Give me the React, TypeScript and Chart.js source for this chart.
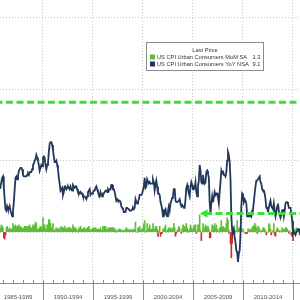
import React, { useEffect, useRef } from 'react';
import { Chart, registerables } from 'chart.js';

Chart.register(...registerables);

// Monthly series, first value = Aug 1985
const startYear = 1985;
const startMonth = 8;

// US CPI Urban Consumers YoY NSA (%)
const cpiYoY = [
  3.3, 3.1, 3.2, 3.5, 3.8,
  3.9, 3.1, 2.3, 1.6, 1.5, 1.8, 1.6, 1.6, 1.8, 1.5, 1.3, 1.1,
  1.5, 2.1, 3.0, 3.8, 3.9, 3.7, 3.9, 4.3, 4.4, 4.5, 4.5, 4.4,
  4.0, 3.9, 3.9, 3.9, 3.9, 4.0, 4.1, 4.0, 4.2, 4.2, 4.2, 4.4,
  4.7, 4.8, 5.0, 5.1, 5.4, 5.2, 5.0, 4.7, 4.3, 4.5, 4.7, 4.6,
  5.2, 5.3, 5.2, 4.7, 4.4, 4.7, 4.8, 5.6, 6.2, 6.3, 6.3, 6.1,
  5.7, 5.3, 4.9, 4.9, 5.0, 4.7, 4.4, 3.8, 3.4, 2.9, 3.0, 3.1,
  2.6, 2.8, 3.2, 3.2, 3.0, 3.1, 3.2, 3.1, 3.0, 3.2, 3.0, 2.9,
  3.3, 3.2, 3.1, 3.2, 3.2, 3.0, 2.8, 2.8, 2.7, 2.8, 2.7, 2.7,
  2.5, 2.5, 2.5, 2.4, 2.3, 2.5, 2.8, 2.9, 3.0, 2.6, 2.7, 2.7,
  2.8, 2.9, 2.9, 3.1, 3.2, 3.0, 2.8, 2.6, 2.5, 2.8, 2.6, 2.5,
  2.7, 2.7, 2.8, 2.9, 2.9, 2.8, 3.0, 2.9, 3.0, 3.0, 3.3, 3.3,
  3.0, 3.0, 2.8, 2.5, 2.2, 2.3, 2.2, 2.2, 2.2, 2.1, 1.8, 1.7,
  1.6, 1.4, 1.4, 1.4, 1.7, 1.7, 1.7, 1.6, 1.5, 1.5, 1.5, 1.6,
  1.7, 1.6, 1.7, 2.3, 2.1, 2.0, 2.1, 2.3, 2.6, 2.6, 2.6, 2.7,
  2.7, 3.2, 3.8, 3.1, 3.2, 3.7, 3.7, 3.4, 3.5, 3.4, 3.4, 3.4,
  3.7, 3.5, 2.9, 3.3, 3.6, 3.2, 2.7, 2.7, 2.6, 2.1, 1.9, 1.6,
  1.1, 1.1, 1.5, 1.6, 1.2, 1.1, 1.5, 1.8, 1.5, 2.0, 2.2, 2.4,
  2.6, 3.0, 3.0, 2.2, 2.1, 2.1, 2.1, 2.2, 2.3, 2.0, 1.8, 1.9,
  1.9, 1.7, 1.7, 2.3, 3.1, 3.3, 3.0, 2.7, 2.5, 3.2, 3.5, 3.3,
  3.0, 3.0, 3.1, 3.5, 2.8, 2.5, 3.2, 3.6, 4.7, 4.3, 3.5, 3.4,
  4.0, 3.6, 3.4, 3.5, 4.2, 4.3, 4.1, 3.8, 2.1, 1.3, 2.0, 2.5,
  2.1, 2.4, 2.8, 2.6, 2.7, 2.7, 2.4, 2.0, 2.8, 3.5, 4.3, 4.1,
  4.3, 4.0, 4.0, 3.9, 4.2, 5.0, 5.6, 5.4, 4.9, 3.7, 1.1, 0.1,
  0.0, 0.2, -0.4, -0.7, -1.3, -1.4, -2.1, -1.5, -1.3, -0.2, 1.8, 2.7,
  2.6, 2.1, 2.3, 2.2, 2.0, 1.1, 1.2, 1.1, 1.1, 1.2, 1.1, 1.5,
  1.6, 2.1, 2.7, 3.2, 3.6, 3.6, 3.6, 3.8, 3.9, 3.5, 3.4, 3.0,
  2.9, 2.9, 2.7, 2.3, 1.7, 1.7, 1.4, 1.7, 2.0, 2.2, 1.8, 1.7,
  1.6, 2.0, 1.5, 1.1, 1.4, 1.8, 2.0, 1.5, 1.2, 1.0, 1.2, 1.5,
  1.6, 1.1, 1.5, 2.0, 2.1, 2.1, 2.0, 1.7, 1.7, 1.7, 1.3, 0.8,
  -0.1, 0.0, -0.1, -0.2, 0.0, 0.1, 0.2, 0.2, 0.0, 0.2, 0.5, 0.7,
];

// US CPI Urban Consumers MoM SA (%)
const cpiMoM = [
  0.2, 0.2, 0.3, 0.5, 0.4,
  0.3, -0.4, -0.5, -0.2, 0.3, 0.4, 0.1, 0.2, 0.3, 0.1, 0.2, 0.2,
  0.6, 0.4, 0.4, 0.5, 0.3, 0.4, 0.3, 0.5, 0.3, 0.4, 0.3, 0.2,
  0.3, 0.2, 0.4, 0.4, 0.3, 0.4, 0.4, 0.4, 0.5, 0.3, 0.3, 0.3,
  0.5, 0.4, 0.5, 0.7, 0.6, 0.2, 0.2, 0.2, 0.3, 0.4, 0.3, 0.3,
  1.0, 0.5, 0.5, 0.2, 0.2, 0.5, 0.4, 0.9, 0.8, 0.6, 0.3, 0.3,
  0.6, 0.1, 0.1, 0.2, 0.3, 0.2, 0.2, 0.2, 0.3, 0.1, 0.4, 0.3,
  0.1, 0.3, 0.4, 0.2, 0.2, 0.3, 0.2, 0.3, 0.3, 0.3, 0.2, 0.2,
  0.5, 0.3, 0.3, 0.3, 0.2, 0.1, 0.0, 0.3, 0.2, 0.4, 0.2, 0.2,
  0.1, 0.3, 0.3, 0.1, 0.2, 0.3, 0.3, 0.4, 0.2, 0.1, 0.2, 0.2,
  0.3, 0.3, 0.2, 0.3, 0.2, 0.2, 0.1, 0.2, 0.2, 0.3, 0.1, 0.1,
  0.4, 0.3, 0.4, 0.4, 0.2, 0.1, 0.3, 0.2, 0.3, 0.3, 0.3, 0.3,
  0.3, 0.3, 0.1, 0.2, 0.0, 0.1, 0.1, 0.2, 0.2, 0.2, 0.1, 0.1,
  0.1, 0.1, 0.1, 0.2, 0.3, 0.1, 0.2, 0.1, 0.1, 0.2, 0.1, 0.1,
  0.2, 0.1, 0.2, 0.7, 0.0, 0.0, 0.3, 0.2, 0.4, 0.2, 0.1, 0.2,
  0.3, 0.6, 0.8, 0.0, 0.1, 0.6, 0.3, 0.1, 0.5, 0.2, 0.2, 0.2,
  0.6, 0.2, 0.2, 0.4, 0.4, 0.2, -0.3, 0.1, 0.4, -0.3, -0.1, -0.1,
  0.2, 0.2, 0.3, 0.5, 0.0, 0.1, 0.2, 0.3, 0.2, 0.3, 0.2, 0.1,
  0.3, 0.6, 0.3, -0.3, -0.1, 0.1, 0.2, 0.4, 0.3, 0.0, -0.1, 0.2,
  0.5, 0.4, 0.4, 0.2, 0.6, 0.3, 0.0, 0.1, 0.2, 0.5, 0.3, 0.1,
  0.2, 0.4, 0.5, 0.5, -0.1, 0.1, 0.5, 0.5, 1.2, 0.1, -0.6, 0.0,
  0.6, 0.1, 0.3, 0.5, 0.4, 0.2, 0.4, 0.2, -0.4, -0.4, 0.1, 0.5,
  0.2, 0.4, 0.6, 0.3, 0.5, 0.2, 0.1, 0.0, 0.3, 0.3, 0.8, 0.3,
  0.4, 0.3, 0.3, 0.2, 0.6, 1.0, 0.8, -0.1, 0.1, -0.8, -1.8, -0.8,
  0.4, 0.3, -0.1, 0.1, 0.1, 0.8, 0.1, 0.3, 0.2, 0.3, 0.3, 0.1,
  0.2, 0.0, 0.0, -0.1, -0.1, -0.1, 0.2, 0.2, 0.1, 0.2, 0.1, 0.3,
  0.4, 0.4, 0.6, 0.5, 0.3, -0.1, 0.4, 0.3, 0.2, 0.0, 0.1, 0.1,
  0.3, 0.3, 0.2, 0.1, -0.2, 0.0, 0.0, 0.6, 0.5, 0.2, -0.2, 0.0,
  0.1, 0.6, -0.2, -0.3, 0.1, 0.3, 0.2, 0.1, 0.1, 0.0, 0.1, 0.3,
  0.2, 0.1, 0.2, 0.3, 0.3, 0.2, 0.1, -0.1, 0.1, 0.0, -0.2, -0.3,
  -0.6, 0.2, 0.2, 0.1, 0.3, 0.2, 0.1, 0.0, -0.2, 0.1, 0.0, -0.1,
];

const periodStarts = [1985, 1990, 1995, 2000, 2005, 2010];
const periodLabels = ['1985-1989', '1990-1994', '1995-1999', '2000-2004', '2005-2009', '2010-2014'];
const yGridValues = [0, 5, 10, 15];

const legendTitle = 'Last Price';
const seriesNames = ['US CPI Urban Consumers MoM SA', 'US CPI Urban Consumers YoY NSA'];
const lastPrices = [1.3, 9.1];
const lastPriceText = ['1.3', '9.1'];
const arrowStartTime = 2006.2;

const X_MIN = 1985.7;
const X_MAX = 2015.7;

const GREEN = '#5cbf35';
const RED = '#d42a2a';
const NAVY = '#21385a';
const BRIGHT = '#3ddc3a';

const timeOf = (i: number) => startYear + (startMonth - 1 + i) / 12;

const legendPlugin = {
  id: 'lastPriceLegend',
  afterDraw(chart: any) {
    const ctx = chart.ctx;
    ctx.save();
    ctx.fillStyle = '#ffffff';
    ctx.fillRect(146.5, 42.5, 117, 28);
    ctx.strokeStyle = '#8c8c8c';
    ctx.lineWidth = 1;
    ctx.strokeRect(146.5, 42.5, 117, 28);
    ctx.font = '5.7px "Liberation Sans", Arial, sans-serif';
    ctx.textBaseline = 'middle';
    ctx.fillStyle = '#333';
    ctx.textAlign = 'center';
    ctx.fillText(legendTitle, 205, 50);
    const colors = [GREEN, NAVY];
    seriesNames.forEach((name, i) => {
      const y = 57 + i * 7;
      ctx.fillStyle = colors[i];
      ctx.fillRect(150, y - 2.5, 5, 5);
      ctx.fillStyle = '#333';
      ctx.textAlign = 'left';
      ctx.fillText(name, 157, y);
      ctx.textAlign = 'right';
      ctx.fillText(lastPriceText[i], 260.5, y);
    });
    ctx.restore();
  },
};

const axisMarksPlugin = {
  id: 'axisMarks',
  afterDraw(chart: any) {
    const xs = chart.scales.x;
    const { ctx, chartArea } = chart;
    ctx.save();
    ctx.strokeStyle = '#8c8c8c';
    ctx.lineWidth = 1;
    ctx.beginPath();
    xs.ticks.forEach((t: any) => {
      if (Number.isInteger(t.value)) {
        const px = Math.round(xs.getPixelForValue(t.value)) + 0.5;
        ctx.moveTo(px, chartArea.bottom - 3);
        ctx.lineTo(px, chartArea.bottom);
        if (t.value % 5 === 0) {
          ctx.moveTo(px, chartArea.bottom);
          ctx.lineTo(px, chart.height);
        }
      }
    });
    ctx.stroke();
    ctx.restore();
  },
};

export default function App() {
  const ref = useRef<HTMLCanvasElement | null>(null);

  useEffect(() => {
    document.body.style.margin = '0';
    const canvas = ref.current;
    if (!canvas) return;

    const momData = cpiMoM.map((v, i) => ({ x: timeOf(i), y: v }));
    const yoyData = cpiYoY.map((v, i) => ({ x: timeOf(i), y: v }));

    const xTicks: { value: number }[] = [];
    for (let yr = Math.ceil(X_MIN); yr <= Math.floor(X_MAX); yr++) xTicks.push({ value: yr });
    periodStarts.forEach((s) => xTicks.push({ value: s + 2.5 }));
    xTicks.sort((a, b) => a.value - b.value);

    const chart = new Chart(canvas, {
      type: 'bar',
      data: {
        datasets: [
          {
            type: 'line',
            label: 'Last YoY',
            data: [{ x: 1980, y: lastPrices[1] }, { x: 2025, y: lastPrices[1] }],
            borderColor: BRIGHT,
            borderWidth: 3,
            borderDash: [7, 3.5],
            pointRadius: 0,
            order: 0,
          },
          {
            type: 'line',
            label: 'Last MoM',
            data: [{ x: arrowStartTime, y: lastPrices[0] }, { x: 2025, y: lastPrices[0] }],
            borderColor: BRIGHT,
            backgroundColor: BRIGHT,
            borderWidth: 3,
            borderDash: [7, 3.5],
            pointStyle: 'triangle',
            pointRotation: 270,
            pointRadius: (c: any) => (c.dataIndex === 0 ? 5 : 0),
            pointBorderWidth: 0,
            order: 0,
          },
          {
            type: 'line',
            label: seriesNames[1],
            data: yoyData,
            borderColor: NAVY,
            borderWidth: 1.8,
            pointRadius: 0,
            tension: 0,
            order: 1,
          },
          {
            type: 'bar',
            label: seriesNames[0],
            data: momData,
            backgroundColor: (c: any) => (c.raw && c.raw.y < 0 ? RED : GREEN),
            barThickness: 1,
            order: 2,
          },
        ] as any,
      },
      options: {
        responsive: false,
        maintainAspectRatio: false,
        animation: false,
        layout: { autoPadding: false, padding: { left: 0, right: 0, top: 0, bottom: -11 } },
        plugins: { legend: { display: false }, tooltip: { enabled: false } },
        scales: {
          x: {
            type: 'linear',
            min: X_MIN,
            max: X_MAX,
            offset: false,
            afterBuildTicks: (axis: any) => {
              axis.ticks = xTicks.map((t) => ({ value: t.value }));
            },
            ticks: {
              autoSkip: false,
              maxRotation: 0,
              minRotation: 0,
              padding: 3,
              color: '#555',
              font: { family: '"Liberation Sans", Arial, sans-serif', size: 6, lineHeight: '22px' },
              callback: (v: any) => {
                const idx = periodStarts.findIndex((s) => s + 2.5 === v);
                return idx >= 0 ? periodLabels[idx] : '';
              },
            },
            grid: {
              offset: false,
              lineWidth: 1,
              drawTicks: false,
              color: (c: any) => {
                const v = c.tick ? c.tick.value : NaN;
                return Number.isInteger(v) && v % 5 === 0 ? '#c4c4c4' : 'rgba(0,0,0,0)';
              },
            },
            border: { display: true, color: '#8c8c8c', width: 1, dash: [1, 2] },
          },
          y: {
            type: 'linear',
            min: -3.57,
            max: 16.26,
            afterBuildTicks: (axis: any) => {
              axis.ticks = yGridValues.map((v) => ({ value: v }));
            },
            ticks: { display: false },
            grid: { drawTicks: false, color: '#c4c4c4', lineWidth: 1 },
            border: { display: false, dash: [1, 2] },
          },
        },
      } as any,
      plugins: [axisMarksPlugin, legendPlugin],
    });

    return () => chart.destroy();
  }, []);

  return (
    <div style={{ width: 300, height: 300 }}>
      <canvas ref={ref} width={300} height={300} style={{ display: 'block' }} />
    </div>
  );
}
